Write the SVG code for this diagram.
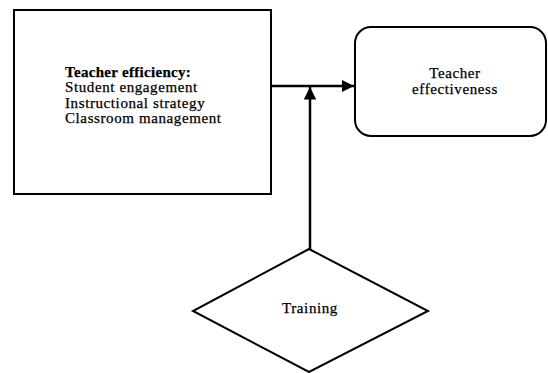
<svg xmlns="http://www.w3.org/2000/svg" width="548" height="373" viewBox="0 0 548 373">
<style>
.shape{fill:#fff;stroke:#000;stroke-width:2}
.t{font-family:"Liberation Serif","Times New Roman",serif;font-size:15px;letter-spacing:0.6px;fill:#000;stroke:#000;stroke-width:0.25}
.b{font-weight:bold;letter-spacing:0.3px}
.c{stroke:#000;stroke-width:2.5;fill:none}
</style>
<defs>
<marker id="ah" viewBox="0 0 10 10" refX="10" refY="5" markerWidth="5" markerHeight="5" orient="auto" markerUnits="strokeWidth">
<path d="M0,0 L10,5 L0,10 z" fill="#000"/>
</marker>
</defs>
<g id="efficiency">
<rect class="shape" x="14" y="10" width="257" height="184"/>
<text class="t" x="65" y="77"><tspan class="b">Teacher efficiency:</tspan><tspan x="65" dy="15.4">Student engagement</tspan><tspan x="65" dy="15.4">Instructional strategy</tspan><tspan x="65" dy="15.4">Classroom management</tspan></text>
</g>
<g id="effectiveness">
<rect class="shape" x="355" y="27" width="191" height="109" rx="16"/>
<text class="t" x="455" y="78" text-anchor="middle">Teacher<tspan x="455" dy="15.5">effectiveness</tspan></text>
</g>
<g id="training">
<polygon class="shape" points="309,249 428,311 309,372 193,311"/>
<text class="t" x="310" y="313" text-anchor="middle">Training</text>
</g>
<g id="connectors">
<line class="c" x1="271" y1="86" x2="354" y2="86" marker-end="url(#ah)"/>
<line class="c" x1="310" y1="249" x2="310" y2="87" marker-end="url(#ah)"/>
</g>
</svg>
